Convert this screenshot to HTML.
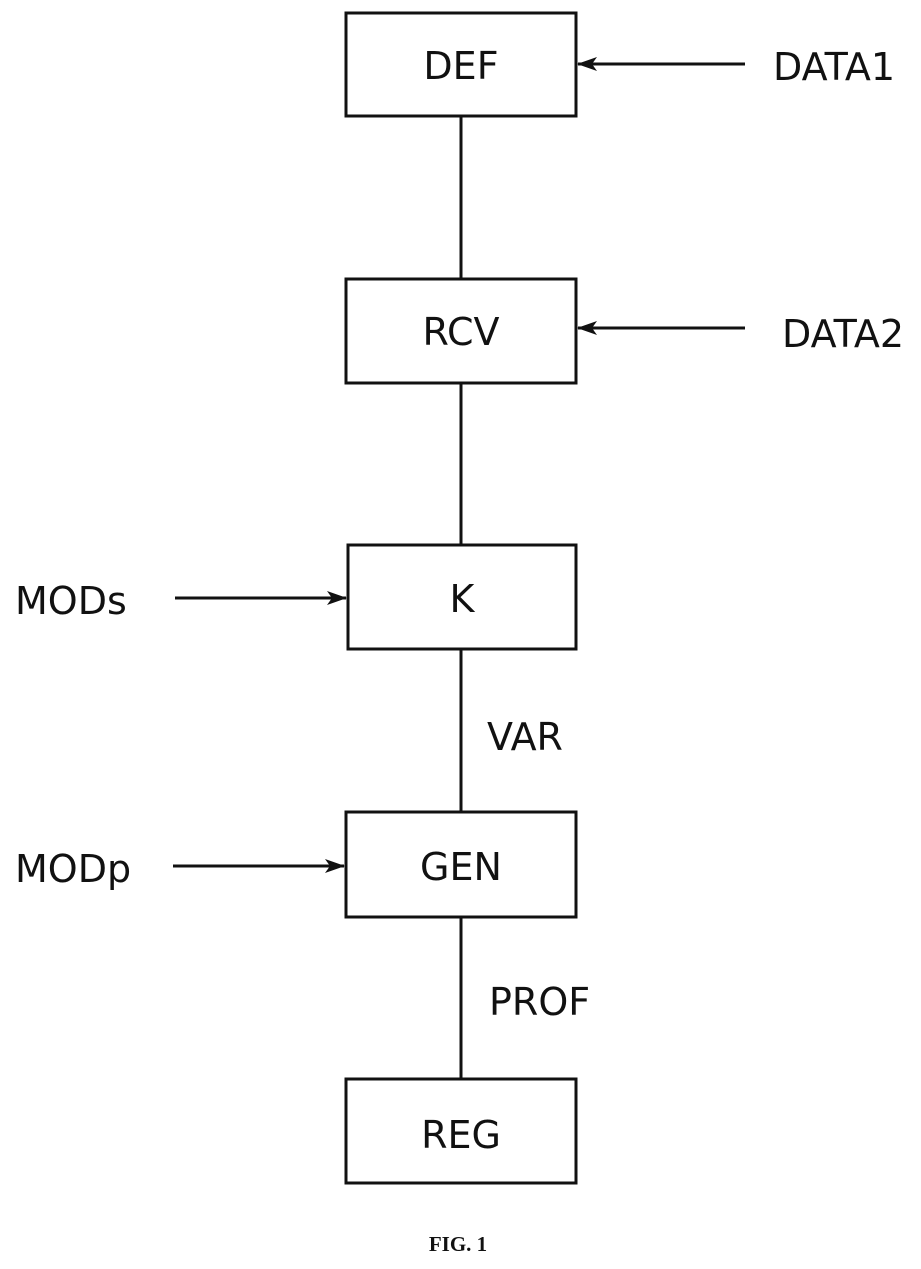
<!DOCTYPE html>
<html><head><style>
body{margin:0;background:#fff}
svg text{font-family:"DejaVu Sans","Liberation Sans",sans-serif;font-size:38px;fill:#111}
</style></head><body>
<svg width="921" height="1264" viewBox="0 0 921 1264" xmlns="http://www.w3.org/2000/svg">
<defs><marker id="a" markerWidth="10" markerHeight="10" refX="9" refY="5" orient="auto" markerUnits="userSpaceOnUse"><path d="M0,0 L10,5 L0,10 Z" fill="#111"/></marker>
<marker id="b" markerWidth="20" markerHeight="14" refX="19" refY="7" orient="auto" markerUnits="userSpaceOnUse"><path d="M0,0 L20,7 L0,14 L5,7 Z" fill="#111"/></marker></defs>
<g fill="none" stroke="#111" stroke-width="3">
<rect x="346" y="13" width="230" height="103"/>
<rect x="346" y="279" width="230" height="104"/>
<rect x="348" y="545" width="228" height="104"/>
<rect x="346" y="812" width="230" height="105"/>
<rect x="346" y="1079" width="230" height="104"/>
<line x1="461" y1="116" x2="461" y2="279"/>
<line x1="461" y1="383" x2="461" y2="545"/>
<line x1="461" y1="649" x2="461" y2="812"/>
<line x1="461" y1="917" x2="461" y2="1079"/>
<line x1="745" y1="64" x2="578" y2="64" marker-end="url(#b)"/>
<line x1="745" y1="328" x2="578" y2="328" marker-end="url(#b)"/>
<line x1="175" y1="598" x2="346" y2="598" marker-end="url(#b)"/>
<line x1="173" y1="866" x2="344" y2="866" marker-end="url(#b)"/>
</g>
<g text-anchor="middle">
<text x="461" y="79">DEF</text>
<text x="461" y="345">RCV</text>
<text x="462" y="612">K</text>
<text x="461" y="880">GEN</text>
<text x="461" y="1148">REG</text>
</g>
<text x="773" y="80">DATA1</text>
<text x="782" y="347">DATA2</text>
<text x="15" y="614">MODs</text>
<text x="15" y="882">MODp</text>
<text x="487" y="750">VAR</text>
<text x="489" y="1015">PROF</text>
<text x="458" y="1251" text-anchor="middle" style="font-family:'Liberation Serif',serif;font-size:21px;font-weight:bold">FIG. 1</text>
</svg>
</body></html>
